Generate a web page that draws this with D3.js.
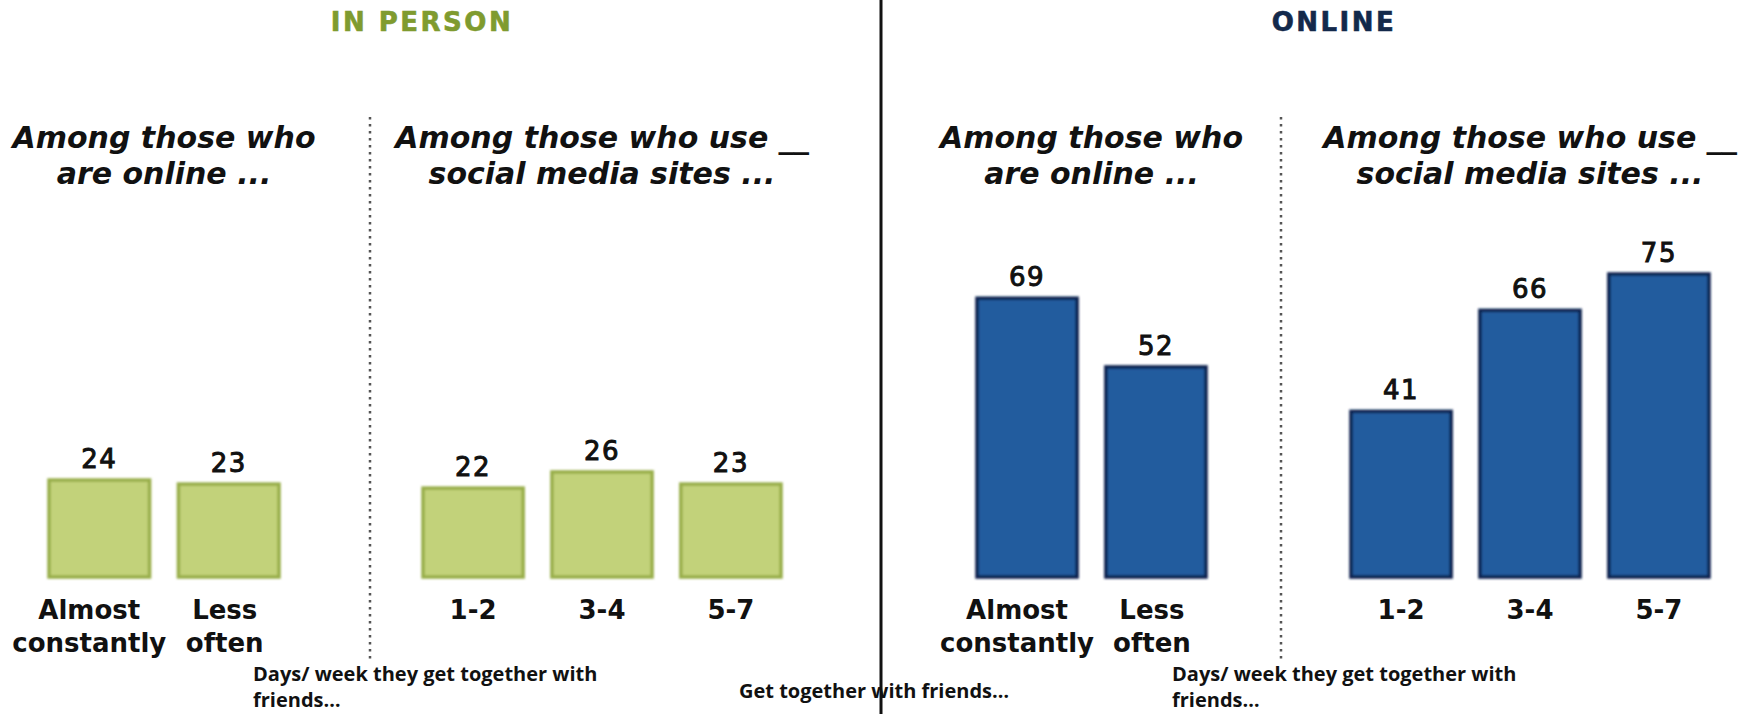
<!DOCTYPE html>
<html>
<head>
<meta charset="utf-8">
<script src="https://cdn.jsdelivr.net/npm/d3@7"></script>
<style>
  html, body { margin: 0; padding: 0; background: #fff; }
  svg { display: block; }
</style>
</head>
<body>
<svg id="chart" width="1743" height="714"></svg>
<script>
// ---- data ----
const frequencyCats = ["Almost constantly", "Less often"];
const frequencyLines = [["Almost", "constantly"], ["Less", "often"]];
const daysCats = ["1-2", "3-4", "5-7"];

const inPersonByFrequency = [24, 23];
const inPersonByDays = [22, 26, 23];
const onlineByFrequency = [69, 52];
const onlineByDays = [41, 66, 75];

const sectionTitles = ["IN PERSON", "ONLINE"];
const frequencySubtitle = ["Among those who", "are online ..."];
const daysSubtitle = ["Among those who use __", "social media sites ..."];
const daysCaption = ["Days/ week they get together with", "friends…"];
const togetherCaption = ["Get together with friends…"];

// ---- layout ----
const W = 1743, H = 714;
const svg = d3.select("#chart");

const y = d3.scaleLinear().domain([0, 100]).range([577, 173]);

const palette = {
  inPerson: { fill: "#c2d27a", edge: "#98ae4a", title: "#7f9b2f" },
  online:   { fill: "#245b9e", edge: "#0b2350", title: "#13294b" }
};

const defs = svg.append("defs");
defs.append("filter").attr("id", "soft")
  .attr("x", "-5%").attr("y", "-5%").attr("width", "110%").attr("height", "110%")
  .append("feGaussianBlur").attr("stdDeviation", 0.9);

const panels = [
  { values: inPersonByFrequency, cats: frequencyCats, lines: frequencyLines, range: [49, 279], colors: palette.inPerson, subtitle: frequencySubtitle },
  { values: inPersonByDays, cats: daysCats, lines: daysCats.map(d => [d]), range: [423, 781], colors: palette.inPerson, subtitle: daysSubtitle },
  { values: onlineByFrequency, cats: frequencyCats, lines: frequencyLines, range: [977, 1206], colors: palette.online, subtitle: frequencySubtitle },
  { values: onlineByDays, cats: daysCats, lines: daysCats.map(d => [d]), range: [1351, 1709], colors: palette.online, subtitle: daysSubtitle }
];

// two-line category labels sit slightly left of their bar centres
const twoLineShift = [-10, -4];

// section titles
const titleX = [422, 1334];
sectionTitles.forEach((t, i) => {
  const c = i === 0 ? palette.inPerson.title : palette.online.title;
  svg.append("text")
    .attr("x", titleX[i]).attr("y", 31)
    .attr("text-anchor", "middle")
    .attr("font-family", "DejaVu Sans")
    .attr("font-weight", "bold")
    .attr("font-size", 26)
    .attr("letter-spacing", 2.5)
    .attr("fill", c)
    .attr("stroke", c)
    .attr("stroke-width", 0.6)
    .text(t);
});

// separators: solid between sections, dotted between sub-panels
svg.append("line")
  .attr("x1", 881).attr("x2", 881).attr("y1", 0).attr("y2", H)
  .attr("stroke", "#111").attr("stroke-width", 3);

[370, 1281].forEach(x => {
  svg.append("line")
    .attr("x1", x).attr("x2", x).attr("y1", 117).attr("y2", 660)
    .attr("stroke", "#555").attr("stroke-width", 2.5)
    .attr("stroke-dasharray", "2.5,4.5");
});

panels.forEach(p => {
  const x = d3.scaleBand().domain(p.cats).range(p.range).paddingInner(0.223).paddingOuter(0);
  const cx = (p.range[0] + p.range[1]) / 2;
  const g = svg.append("g");

  // subtitle
  const sub = g.append("text")
    .attr("text-anchor", "middle")
    .attr("font-family", "DejaVu Sans")
    .attr("font-weight", "bold")
    .attr("font-style", "italic")
    .attr("font-size", 30)
    .attr("fill", "#111");
  p.subtitle.forEach((line, i) => {
    sub.append("tspan").attr("x", cx).attr("y", 148 + i * 36).text(line);
  });

  const data = p.cats.map((c, i) => ({ cat: c, index: i, value: p.values[i], lines: p.lines[i] }));

  // bars
  g.selectAll("rect.bar").data(data).join("rect")
    .attr("class", "bar")
    .attr("x", d => x(d.cat))
    .attr("y", d => y(d.value))
    .attr("width", x.bandwidth())
    .attr("height", d => y(0) - y(d.value))
    .attr("fill", p.colors.fill)
    .attr("stroke", p.colors.edge)
    .attr("stroke-width", 3.5)
    .attr("filter", "url(#soft)");

  // value labels
  g.selectAll("text.val").data(data).join("text")
    .attr("class", "val")
    .attr("x", d => x(d.cat) + x.bandwidth() / 2)
    .attr("y", d => y(d.value) - 12)
    .attr("text-anchor", "middle")
    .attr("font-family", "DejaVu Sans")
    .attr("font-size", 26)
    .attr("letter-spacing", 1.5)
    .attr("fill", "#111")
    .attr("stroke", "#111").attr("stroke-width", 1)
    .text(d => d.value);

  // category labels
  const cl = g.selectAll("text.cat").data(data).join("text")
    .attr("class", "cat")
    .attr("text-anchor", "middle")
    .attr("font-family", "DejaVu Sans")
    .attr("font-weight", "bold")
    .attr("font-size", 26)
    .attr("fill", "#111");
  cl.each(function(d) {
    const t = d3.select(this);
    const shift = d.lines.length > 1 ? twoLineShift[d.index] : 0;
    d.lines.forEach((line, i) => {
      t.append("tspan")
        .attr("x", x(d.cat) + x.bandwidth() / 2 + shift)
        .attr("y", 619 + i * 33)
        .text(line);
    });
  });
});

// captions under the panels
const captions = [
  { lines: daysCaption, x: 253, y: 681 },
  { lines: togetherCaption, x: 739, y: 698 },
  { lines: daysCaption, x: 1172, y: 681 }
];
captions.forEach(c => {
  const t = svg.append("text")
    .attr("font-family", "Open Sans")
    .attr("font-weight", "bold")
    .attr("font-size", 20)
    .attr("fill", "#111");
  c.lines.forEach((line, i) => {
    t.append("tspan").attr("x", c.x).attr("y", c.y + i * 26).text(line);
  });
});
</script>
</body>
</html>
